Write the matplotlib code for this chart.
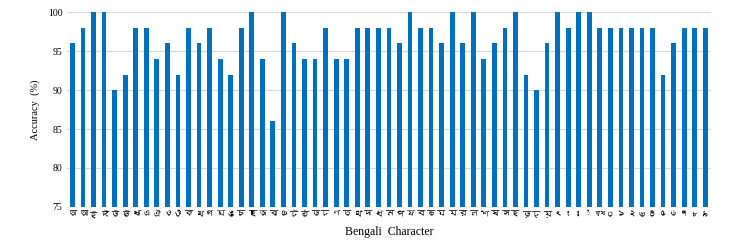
import matplotlib
matplotlib.use("Agg")
import matplotlib.pyplot as plt
from matplotlib import font_manager
from matplotlib.ft2font import FT2Font

# Bengali characters (vowels, consonants, compound, digits)
characters = ["অ", "আ", "ই", "ঈ", "উ", "ঊ", "ঋ", "এ", "ঐ", "ও", "ঔ",
              "ক", "খ", "গ", "ঘ", "ঙ", "চ", "ছ", "জ", "ঝ", "ঞ",
              "ট", "ঠ", "ড", "ঢ", "ণ", "ত", "থ", "দ", "ধ", "ন",
              "প", "ফ", "ব", "ভ", "ম", "য", "র", "ল", "শ", "ষ",
              "স", "হ", "ড়", "ঢ়", "য়", "ৎ", "ং", "ঃ", "\u25ccঁ", "ক্ষ",
              "০", "১", "২", "৩", "৪", "৫", "৬", "৭", "৮", "৯"]
accuracy = [96, 98, 100, 100, 90, 92, 98, 98, 94, 96, 92, 98, 96, 98, 94, 92, 98, 100, 94, 86, 100,
            96, 94, 94, 98, 94, 94, 98, 98, 98, 98, 96, 100, 98, 98, 96, 100, 96, 100, 94, 96, 98,
            100, 92, 90, 96, 100, 98, 100, 100, 98, 98, 98, 98, 98, 98, 92, 96, 98, 98, 98]
y_ticks = [75, 80, 85, 90, 95, 100]

# look for any installed font that has Bengali glyphs
bengali_font = None
for f in font_manager.fontManager.ttflist:
    try:
        if FT2Font(f.fname).get_char_index(ord("ক")):
            bengali_font = f.name
            break
    except Exception:
        pass
tick_family = [bengali_font, "DejaVu Sans"] if bengali_font else ["DejaVu Sans"]

fig = plt.figure(figsize=(7.45, 2.44), dpi=100)
ax = fig.add_axes([0.0895, 0.152, 0.865, 0.798])

x = list(range(len(characters)))
ax.bar(x, accuracy, width=0.45, color="#0070C0", zorder=3)

ax.set_ylim(75, 100)
ax.set_xlim(-0.55, len(characters) - 0.45)
ax.set_yticks(y_ticks)
ax.set_yticklabels([str(v) for v in y_ticks], fontfamily="Liberation Serif", fontsize=7)
ax.set_xticks(x)
labels = ax.set_xticklabels(characters, family=tick_family, fontsize=6)
# conjunct / dotted-circle labels come out wide (no shaping), shrink them
for lab in labels:
    t = lab.get_text()
    if "\u09cd" in t or "\u25cc" in t:
        lab.set_fontsize(4.2)
ax.tick_params(length=0, pad=3)
ax.grid(axis="y", color="#d9d9d9", linewidth=0.8, zorder=0)
for s in ax.spines.values():
    s.set_visible(False)

ax.set_ylabel("Accuracy  (%)", fontfamily="Liberation Serif", fontsize=7.5, labelpad=6)
ax.set_xlabel("Bengali  Character", fontfamily="Liberation Serif", fontsize=8.5, labelpad=5)

fig.savefig("out.png", dpi=100)
